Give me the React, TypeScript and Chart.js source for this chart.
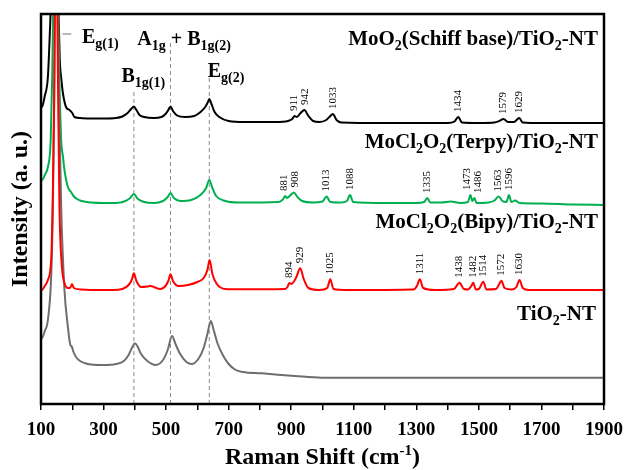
import React, { useEffect, useRef } from "react";
import { Chart, registerables } from "chart.js";

Chart.register(...registerables);

type Pt = [number, number];

// Raman shift axis (cm-1): labelled ticks every 200, minor marks every 100
const shiftMin = 100;
const shiftMax = 1900;
const shiftLabels = [100, 300, 500, 700, 900, 1100, 1300, 1500, 1700, 1900];

// Spectra: [Raman shift (cm-1), intensity (a. u., stacked with offsets)]
const schiffBase: Pt[] = [
  [100, 297], [103, 297], [112, 308], [122, 327], [128.6, 374], [131, 395], [136, 480], [143.5, 620],
  [151, 480], [156, 392], [160, 344], [165, 325], [170, 311], [180, 297], [191, 294], [200, 291],
  [207, 287], [225, 286], [260, 285.5], [300, 285.5], [340, 286], [360, 287.5], [375, 290.5],
  [388, 295], [397, 297.5], [405, 294], [415, 289], [430, 287], [460, 286], [485, 287], [498, 290],
  [507, 294], [514, 297.5], [522, 293], [535, 288.5], [560, 287], [590, 288], [610, 292], [625, 297],
  [633, 301.5], [638, 305], [645, 300], [655, 292], [670, 287], [700, 283], [750, 282], [850, 282],
  [890, 283], [903, 285], [911, 288], [918, 287], [930, 291], [942, 294], [955, 288], [970, 283],
  [990, 282], [1012, 284], [1025, 288], [1033, 290], [1045, 284], [1060, 281.5], [1200, 281],
  [1400, 281], [1422, 282.5], [1434, 287], [1446, 281.5], [1500, 281], [1550, 281.5], [1565, 283],
  [1579, 285], [1593, 282], [1612, 282], [1629, 286], [1640, 281.5], [1700, 281], [1900, 281],
];

const terpy: Pt[] = [
  [100, 224], [103, 224], [112, 229], [122, 237], [131, 264], [136, 330], [140, 420], [146, 620],
  [152, 440], [157, 350], [164.5, 264], [170, 248], [175, 234], [186, 217], [196, 212], [205, 207.5],
  [215, 205], [230, 203], [260, 201.5], [300, 201], [340, 201], [370, 203], [385, 206], [397, 210],
  [410, 205], [430, 202], [460, 201], [490, 203], [505, 207], [514, 211], [525, 206], [545, 203],
  [580, 204], [610, 209], [628, 216], [638, 224], [648, 216], [660, 208], [690, 203], [730, 201.5],
  [860, 202], [873, 204.5], [881, 208], [886, 206], [898, 209], [908, 211.5], [920, 207], [935, 203],
  [970, 201.5], [1000, 202.5], [1013, 207.5], [1025, 202], [1060, 201.5], [1078, 203], [1088, 209],
  [1098, 202], [1200, 201], [1300, 201], [1325, 202], [1335, 206], [1345, 201.5], [1380, 201.5],
  [1410, 202.5], [1440, 201], [1465, 202], [1473, 209], [1479, 203], [1486, 206], [1492, 201],
  [1530, 201.5], [1550, 203.5], [1563, 207.5], [1575, 203], [1588, 202], [1596, 209], [1604, 202],
  [1616, 203.5], [1630, 201], [1700, 200.5], [1800, 199.5], [1900, 199],
];

const bipy: Pt[] = [
  [100, 114], [103, 114], [112, 118], [122, 124], [133, 147], [138, 214], [142, 300], [145, 420],
  [148, 620], [151, 440], [155, 300], [159, 197], [167, 137], [175, 121], [186, 116], [193, 116],
  [199, 120], [205, 116], [230, 114.5], [280, 114], [330, 114], [360, 115], [380, 119], [390, 124],
  [397, 130.7], [405, 123], [420, 117], [440, 117.5], [450, 118], [465, 116.5], [480, 115], [495, 117],
  [507, 123], [514, 129.7], [522, 123], [540, 118], [570, 119], [600, 122], [620, 126], [632, 134],
  [639, 144], [648, 130], [662, 120], [690, 115], [726, 114.7], [880, 115], [888, 117], [894, 121],
  [900, 120], [915, 126], [929, 135.7], [940, 125], [955, 116], [990, 114], [1015, 116], [1025, 124.7],
  [1035, 115], [1080, 114], [1290, 114.5], [1302, 118], [1311, 124.7], [1322, 116], [1360, 114],
  [1420, 115], [1438, 121.3], [1452, 115], [1465, 114.5], [1476, 118], [1482, 121.3], [1490, 114.5],
  [1500, 115], [1514, 122.3], [1524, 114.5], [1555, 115], [1565, 120], [1572, 123.3], [1582, 116],
  [1605, 114.5], [1620, 117], [1630, 124], [1640, 116], [1660, 114], [1900, 114],
];

const tio2: Pt[] = [
  [100, 66], [103, 66], [112, 73], [122, 84], [133, 131], [138, 197], [143, 330], [148, 600],
  [153, 420], [158, 300], [164.5, 197], [175, 114], [186, 77], [193, 60], [199, 57], [204, 52],
  [212, 47], [225, 43], [239, 41], [260, 39.5], [302, 39], [340, 40], [365, 43], [380, 49], [392, 57],
  [400, 60.7], [408, 58], [420, 50], [440, 43], [467, 39], [490, 44], [505, 54], [519, 68], [530, 60],
  [545, 50], [565, 42], [583, 40], [605, 46], [620, 56], [632, 70], [643, 83], [652, 74], [665, 60],
  [683, 48], [700, 40], [720, 34.5], [745, 32], [806, 30.7], [912, 28], [997, 26.3], [1900, 26.3],
];

// Assigned band positions (cm-1) for each spectrum
const schiffPeaks = [911, 942, 1033, 1434, 1579, 1629];
const terpyPeaks = [881, 908, 1013, 1088, 1335, 1473, 1486, 1563, 1596];
const bipyPeaks = [894, 929, 1025, 1311, 1438, 1482, 1514, 1572, 1630];

// Anatase modes marked with dashed guides: shift and upper end of the guide
const modeShifts = [397, 514, 638];
const modeGuideTops = [315, 361, 328];

type Seg = { t: string; sub?: boolean; sup?: boolean };

const SERIF = '"Liberation Serif", "Times New Roman", serif';

function drawRich(
  ctx: CanvasRenderingContext2D,
  segs: Seg[],
  x: number,
  y: number,
  align: "left" | "right" | "center",
  size: number,
  smallSize: number,
  subDrop: number,
  supRise: number
) {
  const main = `bold ${size}px ${SERIF}`;
  const small = `bold ${smallSize}px ${SERIF}`;
  let total = 0;
  const widths = segs.map((s) => {
    ctx.font = s.sub || s.sup ? small : main;
    const w = ctx.measureText(s.t).width;
    total += w;
    return w;
  });
  let cx = align === "left" ? x : align === "right" ? x - total : x - total / 2;
  ctx.textAlign = "left";
  ctx.textBaseline = "alphabetic";
  segs.forEach((s, i) => {
    ctx.font = s.sub || s.sup ? small : main;
    const dy = s.sub ? subDrop : s.sup ? -supRise : 0;
    ctx.fillText(s.t, cx, y + dy);
    cx += widths[i];
  });
}

const toXY = (pts: Pt[]) => pts.map(([x, y]) => ({ x, y }));

export default function App() {
  const canvasRef = useRef<HTMLCanvasElement | null>(null);

  useEffect(() => {
    const canvas = canvasRef.current;
    if (!canvas) return;

    const annotations = {
      id: "ramanAnnotations",
      afterDatasetsDraw(chart: any) {
        const { ctx, chartArea, scales } = chart;
        const xs = scales.x;
        const ys = scales.y;
        const px = (v: number) => xs.getPixelForValue(v);
        const py = (v: number) => ys.getPixelForValue(v);
        ctx.save();
        ctx.fillStyle = "#000";

        // band position labels, rotated, above each peak
        const peakSets: [Pt[], number[]][] = [
          [schiffBase, schiffPeaks],
          [terpy, terpyPeaks],
          [bipy, bipyPeaks],
        ];
        ctx.font = `11px ${SERIF}`;
        for (const [series, peaks] of peakSets) {
          const items = peaks.map((p) => {
            const hit = series.find((d) => d[0] === p);
            const v = hit ? hit[1] : 0;
            return { text: String(p), x: px(p), y: py(v) - 5 };
          });
          for (let i = 0; i < items.length - 1; i++) {
            const gap = items[i + 1].x - items[i].x;
            const minGap = 10.5;
            if (gap < minGap) {
              const d = (minGap - gap) / 2;
              items[i].x -= d;
              items[i + 1].x += d;
            }
          }
          for (const it of items) {
            ctx.save();
            ctx.translate(it.x, it.y);
            ctx.rotate(-Math.PI / 2);
            ctx.textAlign = "left";
            ctx.textBaseline = "middle";
            ctx.fillText(it.text, 0, 0);
            ctx.restore();
          }
        }

        // mode labels
        drawRich(ctx, [{ t: "E" }, { t: "g(1)", sub: true }], px(231), py(360.7), "left", 20, 14, 5, 0);
        drawRich(
          ctx,
          [{ t: "A" }, { t: "1g", sub: true }, { t: " + B" }, { t: "1g(2)", sub: true }],
          px(408), py(359), "left", 20, 14, 5, 0
        );
        drawRich(ctx, [{ t: "B" }, { t: "1g(1)", sub: true }], px(357), py(322.3), "left", 20, 14, 5, 0);
        drawRich(ctx, [{ t: "E" }, { t: "g(2)", sub: true }], px(633), py(327.3), "left", 20, 14, 5, 0);

        // sample names
        const rx = chartArea.right - 6;
        drawRich(
          ctx,
          [{ t: "MoO" }, { t: "2", sub: true }, { t: "(Schiff base)/TiO" }, { t: "2", sub: true }, { t: "-NT" }],
          rx, chartArea.top + 31, "right", 21, 14, 5, 0
        );
        drawRich(
          ctx,
          [{ t: "MoCl" }, { t: "2", sub: true }, { t: "O" }, { t: "2", sub: true }, { t: "(Terpy)/TiO" }, { t: "2", sub: true }, { t: "-NT" }],
          rx, chartArea.top + 134, "right", 21, 14, 5, 0
        );
        drawRich(
          ctx,
          [{ t: "MoCl" }, { t: "2", sub: true }, { t: "O" }, { t: "2", sub: true }, { t: "(Bipy)/TiO" }, { t: "2", sub: true }, { t: "-NT" }],
          rx, chartArea.top + 214, "right", 21, 14, 5, 0
        );
        drawRich(
          ctx,
          [{ t: "TiO" }, { t: "2", sub: true }, { t: "-NT" }],
          rx - 2, chartArea.top + 306, "right", 21, 14, 5, 0
        );

        // frame
        ctx.strokeStyle = "#000";
        ctx.lineWidth = 2.5;
        ctx.strokeRect(chartArea.left, chartArea.top, chartArea.right - chartArea.left, chartArea.bottom - chartArea.top);

        // axis titles
        const cxm = (chartArea.left + chartArea.right) / 2;
        drawRich(
          ctx,
          [{ t: "Raman Shift (cm" }, { t: "-1", sup: true }, { t: ")" }],
          cxm + 0, 464, "center", 24, 15, 0, 9
        );
        ctx.save();
        ctx.translate(27, (chartArea.top + chartArea.bottom) / 2);
        ctx.rotate(-Math.PI / 2);
        drawRich(ctx, [{ t: "Intensity (a. u.)" }], 0, 0, "center", 24, 15, 0, 0);
        ctx.restore();

        ctx.restore();
      },
    };

    const spectrum = (label: string, pts: Pt[], color: string, order: number) => ({
      label,
      data: toXY(pts),
      borderColor: color,
      backgroundColor: color,
      borderWidth: 2,
      pointRadius: 0,
      fill: false,
      cubicInterpolationMode: "monotone" as const,
      order,
    });

    const guides = modeShifts.map((s, i) => ({
      label: `guide-${s}`,
      data: [
        { x: s, y: 0 },
        { x: s, y: modeGuideTops[i] },
      ],
      borderColor: "#8a8a8a",
      borderWidth: 1,
      borderDash: [4, 3],
      pointRadius: 0,
      fill: false,
      order: 10 + i,
    }));

    const pointer = {
      label: "Eg(1) pointer",
      data: [
        { x: 169, y: 370 },
        { x: 197, y: 370 },
      ],
      borderColor: "#a0a0a0",
      borderWidth: 1.5,
      pointRadius: 0,
      fill: false,
      order: 9,
    };

    const chart = new Chart(canvas, {
      type: "line",
      data: {
        datasets: [
          spectrum("MoCl2O2(Bipy)/TiO2-NT", bipy, "#ff0000", 0),
          spectrum("TiO2-NT", tio2, "#6e6e6e", 1),
          spectrum("MoCl2O2(Terpy)/TiO2-NT", terpy, "#00b050", 2),
          spectrum("MoO2(Schiff base)/TiO2-NT", schiffBase, "#000000", 3),
          pointer,
          ...guides,
        ] as any,
      },
      options: {
        animation: false,
        responsive: false,
        maintainAspectRatio: false,
        parsing: false as any,
        layout: { padding: { top: 14, right: 24, left: 0, bottom: 0 } },
        plugins: {
          legend: { display: false },
          tooltip: { enabled: false },
          title: { display: false },
        },
        scales: {
          x: {
            type: "linear",
            min: shiftMin,
            max: shiftMax,
            border: { display: false },
            grid: {
              drawOnChartArea: false,
              drawTicks: true,
              tickLength: 6,
              color: "#000",
              lineWidth: 1.5,
            },
            ticks: {
              stepSize: 100,
              autoSkip: false,
              maxRotation: 0,
              padding: 9,
              color: "#000",
              font: { family: SERIF, size: 19, weight: "bold" },
              callback: (v: any) => (shiftLabels.includes(Number(v)) ? String(v) : ""),
            },
            afterFit: (s: any) => {
              s.height = 66;
            },
          },
          y: {
            type: "linear",
            min: 0,
            max: 390,
            border: { display: false },
            grid: { display: false },
            ticks: { display: false },
            afterFit: (s: any) => {
              s.width = 41;
            },
          },
        },
      } as any,
      plugins: [annotations],
    });

    return () => chart.destroy();
  }, []);

  return (
    <div style={{ position: "fixed", left: 0, top: 0, width: 632, height: 470, background: "#fff" }}>
      <canvas ref={canvasRef} width={632} height={470} />
    </div>
  );
}
